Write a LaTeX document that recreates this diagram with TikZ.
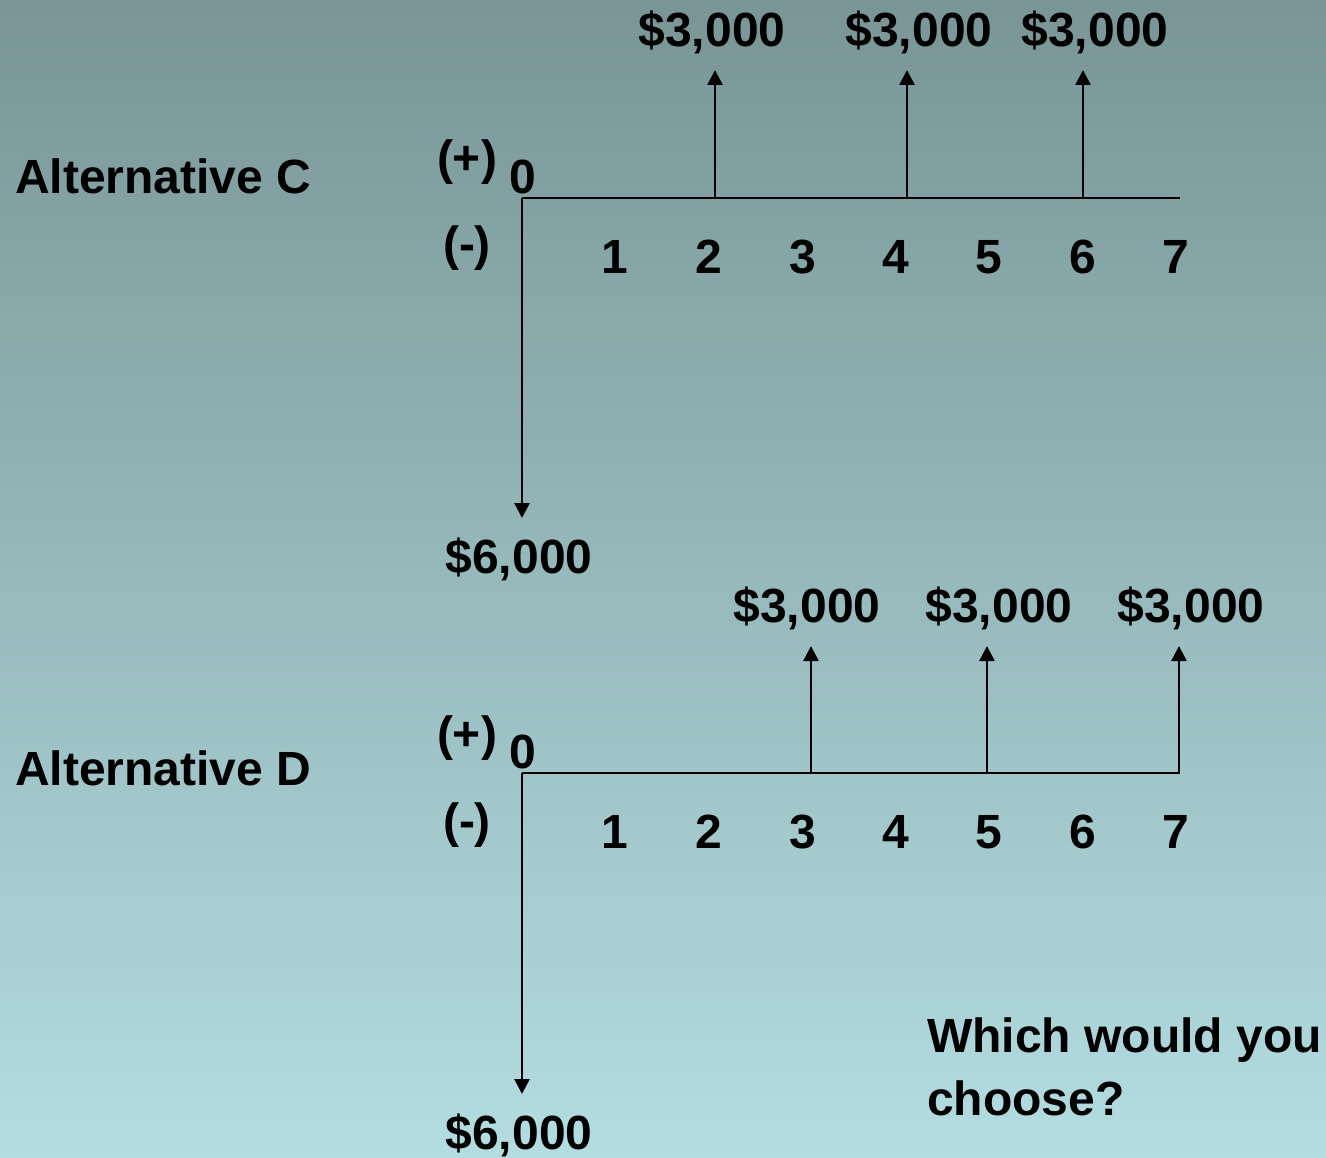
\documentclass[tikz,border=0pt]{standalone}
\usepackage{fontspec}
\setmainfont{Liberation Sans}
\usetikzlibrary{arrows.meta}
\definecolor{bgtop}{RGB}{121,149,150}
\definecolor{bgbot}{RGB}{179,221,225}
\tikzset{
  lbl/.style={font=\fontsize{48}{57}\selectfont\bfseries, inner sep=0pt, text=black},
  axis/.style={line width=2.6pt, black},
  flow/.style={line width=2.6pt, black, -{Triangle[width=15pt,length=15pt]}},
}
\begin{document}
\begin{tikzpicture}[x=1pt,y=-1pt]
\shade[top color=bgtop, bottom color=bgbot] (0,0) rectangle (1326,1158);
\useasboundingbox (0,0) rectangle (1326,1158);

% ---------- Alternative C ----------
\node[lbl, anchor=west] (altC) at (15,176) {Alternative C};
\node[lbl] (plusC) at (467,162) {(+)};
\node[lbl] (zeroC) at (523,177) {0};
\node[lbl] (minusC) at (467,248) {(-)};
\coordinate (oC) at (522,198);
\coordinate (eC) at (1180,198);
\draw[axis] (oC) -- (eC);
\foreach \i/\x in {1/615,2/709,3/803,4/896,5/989,6/1083,7/1176}
  \node[lbl] (tC\i) at (\x,257) {\i};
\coordinate (dC) at (522,518);
\draw[flow] (oC) -- (dC);
\node[lbl] (sixC) at (519,559) {\$6,000};
\node[lbl] (c2) at (712,32) {\$3,000};
\node[lbl] (c4) at (919,32) {\$3,000};
\node[lbl] (c6) at (1095,32) {\$3,000};
\coordinate (bC2) at (715,198); \coordinate (uC2) at (715,70);
\coordinate (bC4) at (907,198); \coordinate (uC4) at (907,70);
\coordinate (bC6) at (1083,198); \coordinate (uC6) at (1083,70);
\draw[flow] (bC2) -- (uC2);
\draw[flow] (bC4) -- (uC4);
\draw[flow] (bC6) -- (uC6);

% ---------- Alternative D ----------
\node[lbl, anchor=west] (altD) at (15,768) {Alternative D};
\node[lbl] (plusD) at (467,738) {(+)};
\node[lbl] (zeroD) at (523,752) {0};
\node[lbl] (minusD) at (467,825) {(-)};
\coordinate (oD) at (522,773);
\coordinate (eD) at (1180,773);
\draw[axis] (oD) -- (eD);
\foreach \i/\x in {1/615,2/709,3/803,4/896,5/989,6/1083,7/1176}
  \node[lbl] (tD\i) at (\x,832) {\i};
\coordinate (dD) at (522,1094);
\draw[flow] (oD) -- (dD);
\node[lbl] (sixD) at (519,1135) {\$6,000};
\node[lbl] (d3) at (807,608) {\$3,000};
\node[lbl] (d5) at (999,608) {\$3,000};
\node[lbl] (d7) at (1191,608) {\$3,000};
\coordinate (bD3) at (811,773); \coordinate (uD3) at (811,646);
\coordinate (bD5) at (987,773); \coordinate (uD5) at (987,646);
\coordinate (bD7) at (1179,773); \coordinate (uD7) at (1179,646);
\draw[flow] (bD3) -- (uD3);
\draw[flow] (bD5) -- (uD5);
\draw[flow] (bD7) -- (uD7);

% ---------- Question ----------
\node[lbl, anchor=west] (q1) at (927,1040) {Which would you};
\node[lbl, anchor=west] (q2) at (927,1098) {choose?};
\end{tikzpicture}
\end{document}
